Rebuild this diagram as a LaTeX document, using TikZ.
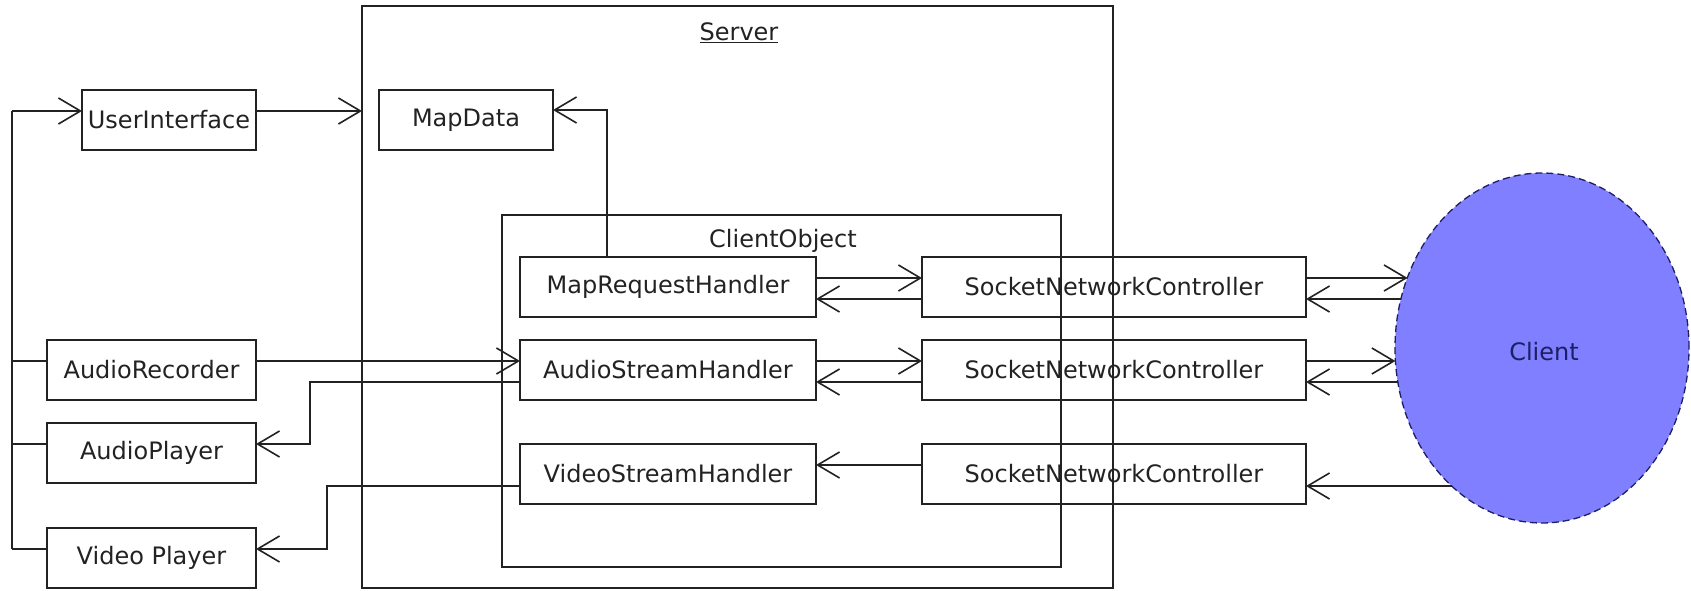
\documentclass[tikz,border=0pt]{standalone}
\usepackage{fontspec}
\setmainfont{DejaVu Sans}
\usetikzlibrary{arrows.meta,calc,shapes.geometric}
\definecolor{ink}{RGB}{34,34,34}
\definecolor{clientfill}{RGB}{127,127,255}
\definecolor{clientink}{RGB}{30,30,100}
\begin{document}
\begin{tikzpicture}[x=1pt,y=-1pt,
  every node/.style={font=\fontsize{24}{28}\selectfont, text=ink, inner sep=0pt, outer sep=0pt},
  comp/.style={draw=ink, line width=1.6pt, rectangle, minimum height=60pt},
  frame/.style={draw=ink, line width=1.6pt, rectangle},
  wire/.style={draw=ink, line width=1.6pt},
  arr/.style={wire, -{Straight Barb[length=22pt, width=26pt, line width=1.6pt]}},
]
\useasboundingbox (0,0) rectangle (1691,591);

% containers
\node[frame, minimum width=751pt, minimum height=582pt] (server) at (737.5,297) {};
\node (serverlbl) at (739,33) {\underline{Server}};
\node[frame, minimum width=559pt, minimum height=352pt] (cobj) at (781.5,391) {};
\node (cobjlbl) at (783,241) {ClientObject};

% components
\node[comp, minimum width=174pt] (ui) at (169,120) {UserInterface};
\node[comp, minimum width=174pt] (md) at (466,120) {MapData};
\node[comp, minimum width=209pt] (ar) at (151.5,370) {AudioRecorder};
\node[comp, minimum width=209pt] (ap) at (151.5,453) {AudioPlayer};
\node[comp, minimum width=209pt] (vp) at (151.5,558) {Video Player};
\node[comp, minimum width=296pt] (mrh) at (668,287) {MapRequestHandler};
\node[comp, minimum width=296pt] (ash) at (668,370) {AudioStreamHandler};
\node[comp, minimum width=296pt] (vsh) at (668,474) {VideoStreamHandler};
\node[comp, minimum width=384pt] (snc1) at (1114,287) {SocketNetworkController};
\node[comp, minimum width=384pt] (snc2) at (1114,370) {SocketNetworkController};
\node[comp, minimum width=384pt] (snc3) at (1114,474) {SocketNetworkController};
\node[ellipse, draw=clientink, fill=clientfill, line width=1.3pt,
      dash pattern=on 7pt off 4pt, minimum width=294pt, minimum height=350pt,
      text=clientink] (client) at (1542,348) {};
\node[text=clientink] (clientlbl) at (1544,352) {Client};

% connection points (upper = 21 below top, lower = 42 below top)
\foreach \n in {ui,md,ar,ap,vp,mrh,ash,vsh,snc1,snc2,snc3}{
  \coordinate (\n-wu) at ($(\n.north west)+(0,21)$);
  \coordinate (\n-wl) at ($(\n.north west)+(0,42)$);
  \coordinate (\n-eu) at ($(\n.north east)+(0,21)$);
  \coordinate (\n-el) at ($(\n.north east)+(0,42)$);
}
\coordinate (md-in) at ($(md.north east)+(0,20)$);
\coordinate (mrh-up) at ($(mrh.north west)+(87,0)$);
\coordinate (bus) at (12,111);
\coordinate (c1a) at ($(snc1-eu)+(101.6,0)$);
\coordinate (c1b) at ($(snc1-el)+(95,0)$);
\coordinate (c2a) at ($(snc2-eu)+(89.4,0)$);
\coordinate (c2b) at ($(snc2-el)+(91.8,0)$);
\coordinate (c3b) at ($(snc3-el)+(145.6,0)$);

% left bus
\draw[wire] (bus) -- (bus |- vp-wu);
\draw[arr] (bus) -- (ui-wu);
\draw[wire] (ar-wu) -- (bus |- ar-wu);
\draw[wire] (ap-wu) -- (bus |- ap-wu);
\draw[wire] (vp-wu) -- (bus |- vp-wu);

% server-side links
\draw[arr] (ui-eu) -- (ui-eu -| server.west);
\draw[arr] (mrh-up) |- (md-in);
\draw[arr] (ar-eu) -- (ash-wu);
\draw[arr] (ash-wl) -- ++(-210,0) |- (ap-eu);
\draw[arr] (vsh-wl) -- ++(-193,0) |- (vp-eu);

% handlers <-> socket controllers
\draw[arr] (mrh-eu) -- (snc1-wu);
\draw[arr] (snc1-wl) -- (mrh-el);
\draw[arr] (ash-eu) -- (snc2-wu);
\draw[arr] (snc2-wl) -- (ash-el);
\draw[arr] (snc3-wu) -- (vsh-eu);

% socket controllers <-> client
\draw[arr] (snc1-eu) -- (c1a);
\draw[arr] (c1b) -- (snc1-el);
\draw[arr] (snc2-eu) -- (c2a);
\draw[arr] (c2b) -- (snc2-el);
\draw[arr] (c3b) -- (snc3-el);
\end{tikzpicture}
\end{document}
